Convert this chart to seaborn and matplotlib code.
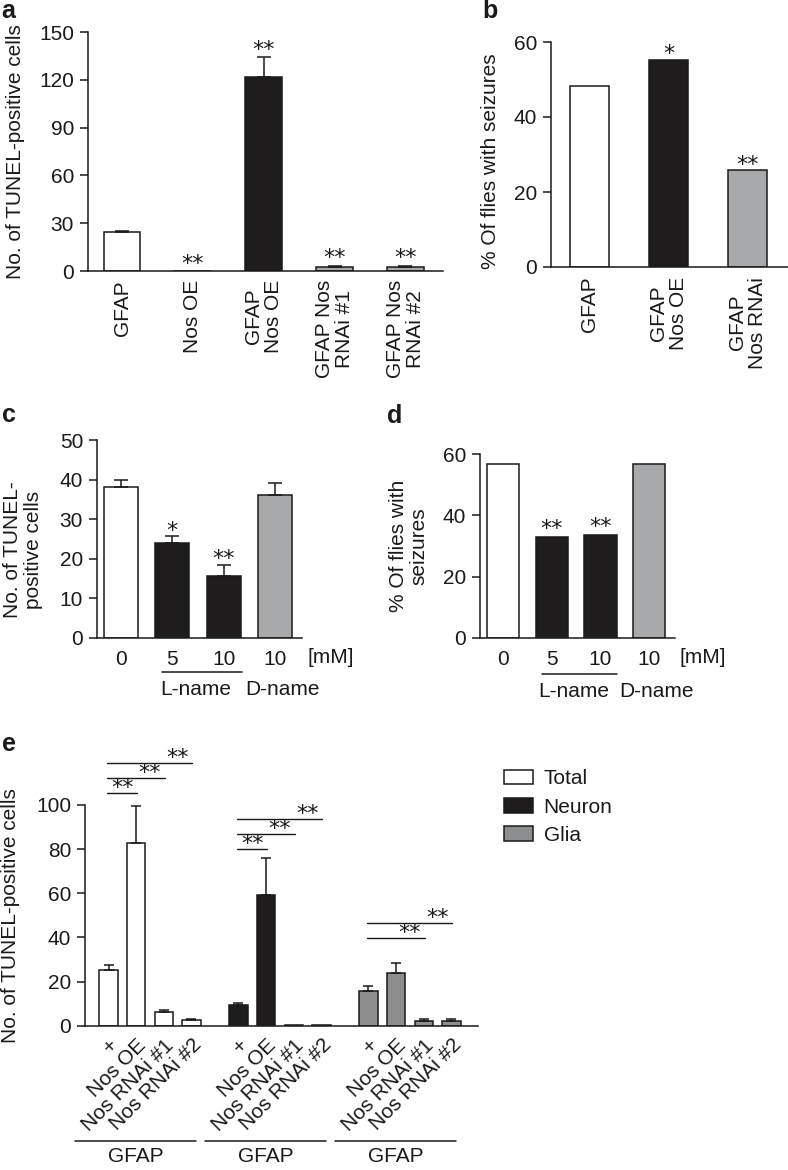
import numpy as np
import pandas as pd
import matplotlib.pyplot as plt
import matplotlib.transforms as mtransforms
import seaborn as sns

# panel a - TUNEL-positive cells
a_groups = ["GFAP", "Nos OE", "GFAP\nNos OE", "GFAP Nos\nRNAi #1", "GFAP Nos\nRNAi #2"]
a_mean = [24.2, 0.0, 121.5, 2.2, 2.2]
a_sem = [1.2, 0.0, 12.5, 1.2, 1.2]
a_sig = ["", "**", "**", "**", "**"]
a_fill = ["white", "dark", "dark", "grey", "grey"]

# panel b - % flies with seizures
b_groups = ["GFAP", "GFAP\nNos OE", "GFAP\nNos RNAi"]
b_pct = [48.2, 55.3, 25.9]
b_sig = ["", "*", "**"]
b_fill = ["white", "dark", "grey"]

# panels c, d - L-name / D-name feeding
doses = ["0", "5", "10", "10"]
drugs = ["", "L-name", "L-name", "D-name"]
c_mean = [38.1, 23.9, 15.5, 36.2]
c_sem = [1.9, 1.8, 3.0, 3.0]
c_sig = ["", "*", "**", ""]
d_pct = [56.9, 32.8, 33.6, 56.9]
d_sig = ["", "**", "**", ""]
cd_fill = ["white", "dark", "dark", "grey"]

# panel e - cell types
e_genotypes = ["+", "Nos OE", "Nos RNAi #1", "Nos RNAi #2"]
e_cells = ["Total", "Neuron", "Glia"]
e_total = [25.2, 82.8, 6.0, 2.5]
e_total_sem = [2.5, 16.9, 1.0, 0.6]
e_neuron = [9.5, 59.3, 0.3, 0.3]
e_neuron_sem = [0.9, 16.6, 0.0, 0.0]
e_glia = [15.8, 23.8, 2.3, 2.3]
e_glia_sem = [2.0, 4.4, 0.6, 0.6]
e_sig = [("Total", 0, 1), ("Total", 0, 2), ("Total", 0, 3),
         ("Neuron", 0, 1), ("Neuron", 0, 2), ("Neuron", 0, 3),
         ("Glia", 0, 2), ("Glia", 0, 3)]
e_sig_base = {"Total": 105.6, "Neuron": 80.1, "Glia": 39.6}
e_sig_step = 6.8

EDGE = "#1a1a1a"
LW = 1.1
COL = {"white": "white", "dark": "#1e1c1d", "grey": "#a8a9ab"}
E_COL = {"Total": "white", "Neuron": "#1e1c1d", "Glia": "#8d8e90"}
W, H, DPI = 788, 1170, 100
FS = 15
STAR_FS = 16

sns.set_style("ticks")
plt.rcParams['font.family'] = ['Liberation Sans', 'DejaVu Sans']
plt.rcParams.update({
    'font.size': FS, 'axes.linewidth': LW, 'axes.edgecolor': EDGE,
    'xtick.color': EDGE, 'ytick.color': EDGE, 'text.color': EDGE,
    'axes.labelcolor': EDGE, 'ytick.major.size': 5.5, 'ytick.major.width': LW,
    'ytick.major.pad': 4.5, 'xtick.labelsize': FS, 'ytick.labelsize': FS,
    'axes.labelsize': FS,
})

fig = plt.figure(figsize=(W / DPI, H / DPI), dpi=DPI)


def place(l, t, r, b):
    return fig.add_axes([l / W, 1 - b / H, (r - l) / W, (b - t) / H])


def star(ax, x, y, s, gap):
    em = STAR_FS * DPI / 72
    ax.annotate(s, (x, y), xytext=(0, (gap - 0.30 * em) * 72 / DPI),
                textcoords='offset points', ha='center', va='baseline',
                fontsize=STAR_FS, family=['DejaVu Sans'], annotation_clip=False)


def bars(ax, keys, vals, fills, width, sem=None, sig=None, gap=8):
    pal = [COL[f] for f in fills]
    sns.barplot(x=keys, y=vals, hue=keys, palette=pal, legend=False,
                width=width, saturation=1, edgecolor=EDGE, linewidth=LW, ax=ax)
    top = np.array(vals, float)
    if sem is not None:
        sem = np.array(sem, float)
        m = sem > 0
        x = np.arange(len(vals))
        ax.errorbar(x[m], top[m], yerr=[np.zeros(m.sum()), sem[m]], fmt='none',
                    ecolor=EDGE, elinewidth=LW, capsize=5, capthick=LW)
        top = top + sem
    for i, s in enumerate(sig):
        if s:
            star(ax, i, top[i], s, gap)


def style(ax, ymax, step, pad):
    sns.despine(ax=ax)
    ax.set_ylim(0, ymax)
    ax.set_yticks(np.arange(0, ymax + 1, step))
    ax.tick_params(axis='x', length=0, pad=pad)
    ax.set_xlabel("")


def ylab(ax, text, right_px, yfrac=0.5):
    ax.set_ylabel(text, fontsize=FS, linespacing=1.1)
    pos = ax.get_position()
    left = pos.x0 * W
    ax.yaxis.set_label_coords((right_px - left) / (pos.width * W), yfrac)


def below(ax, px):
    return mtransforms.offset_copy(ax.get_xaxis_transform(), fig=fig, y=-px, units='dots')


def drug_labels(ax, line_px, text_px):
    idx = [i for i, d in enumerate(drugs) if d == "L-name"]
    ax.plot([min(idx) - 0.2, max(idx) + 0.35], [0, 0], transform=below(ax, line_px),
            color=EDGE, lw=LW, clip_on=False)
    ax.text(np.mean(idx) - 0.05, 0, "L-name", transform=below(ax, text_px),
            ha='center', va='center', fontsize=FS)
    di = drugs.index("D-name")
    ax.text(di + 0.15, 0, "D-name", transform=below(ax, text_px),
            ha='center', va='center', fontsize=FS)
    ax.text(len(doses) + 0.1, 0, "[mM]", transform=below(ax, 20),
            ha='center', va='center', fontsize=FS)


# ---------- a ----------
ax = place(88, 32, 443, 271)
bars(ax, a_groups, a_mean, a_fill, 0.52, a_sem, a_sig, gap=8)
style(ax, 150, 30, 6.5)
ax.set_xlim(-0.48, 4.53)
ax.set_xticks(range(len(a_groups)))
ax.set_xticklabels(a_groups, rotation=90, ha='center', va='top', multialignment='center',
                   linespacing=1.1)
ylab(ax, "No. of TUNEL-positive cells", 25)

# ---------- b ----------
ax = place(551, 42, 788, 267)
bars(ax, b_groups, b_pct, b_fill, 0.5, None, b_sig, gap=6)
style(ax, 60, 20, 7)
ax.set_xlim(-0.49, 2.51)
ax.set_xticks(range(len(b_groups)))
ax.set_xticklabels(b_groups, rotation=90, ha='center', va='top', multialignment='center',
                   linespacing=1.1)
ylab(ax, "% Of flies with seizures", 500, 0.47)

# ---------- c ----------
cd_keys = [f"{d} {x}" for d, x in zip(drugs, doses)]
ax = place(97, 440, 302, 637.7)
bars(ax, cd_keys, c_mean, cd_fill, 0.66, c_sem, c_sig, gap=6)
style(ax, 50, 10, 9)
ax.set_xlim(-0.47, 3.53)
ax.set_xticks(range(len(doses)))
ax.set_xticklabels(doses)
drug_labels(ax, 34, 52)
ylab(ax, "No. of TUNEL-\npositive cells", 43, 0.446)

# ---------- d ----------
ax = place(480, 454.3, 675, 637.7)
bars(ax, cd_keys, d_pct, cd_fill, 0.66, None, d_sig, gap=9)
style(ax, 60, 20, 9)
ax.set_xlim(-0.47, 3.53)
ax.set_xticks(range(len(doses)))
ax.set_xticklabels(doses)
drug_labels(ax, 36, 54)
ylab(ax, "% Of flies with\nseizures", 428, 0.5)

# ---------- e ----------
GROUP_GAP = 4.7
e_vals = {"Total": e_total, "Neuron": e_neuron, "Glia": e_glia}
e_sems = {"Total": e_total_sem, "Neuron": e_neuron_sem, "Glia": e_glia_sem}
rows = []
for gi, cell in enumerate(e_cells):
    for j, g in enumerate(e_genotypes):
        rows.append({"pos": gi * GROUP_GAP + j, "count": e_vals[cell][j],
                     "sem": e_sems[cell][j], "cell": cell})
df = pd.DataFrame(rows)

ax = place(85, 805, 478, 1025.7)
sns.barplot(data=df, x="pos", y="count", hue="cell", hue_order=e_cells,
            palette=E_COL, native_scale=True, dodge=False, width=0.66,
            saturation=1, edgecolor=EDGE, linewidth=LW, ax=ax)
m = df["sem"] > 0
ax.errorbar(df.loc[m, "pos"], df.loc[m, "count"],
            yerr=[np.zeros(m.sum()), df.loc[m, "sem"]], fmt='none',
            ecolor=EDGE, elinewidth=LW, capsize=3.8, capthick=LW)
style(ax, 100, 20, 7)
ax.set_xlim(-0.85, 2 * GROUP_GAP + 3 + 0.96)
ax.set_xticks(df["pos"])
ax.set_xticklabels(e_genotypes * len(e_cells), rotation=45, ha='right', va='top',
                   rotation_mode='anchor')
ax.set_ylabel("")
ylab(ax, "No. of TUNEL-positive cells", 20)

level = {c: 0 for c in e_cells}
for cell, i0, i1 in e_sig:
    gi = e_cells.index(cell)
    y = e_sig_base[cell] + level[cell] * e_sig_step
    level[cell] += 1
    x0, x1 = gi * GROUP_GAP + i0, gi * GROUP_GAP + i1
    ax.plot([x0 - 0.05, x1 + 0.03], [y, y], color=EDGE, lw=1.0, clip_on=False)
    star(ax, x1 - 0.5, y, "**", 5.5)

for gi in range(len(e_cells)):
    x0, x1 = gi * GROUP_GAP - 1.2, gi * GROUP_GAP + 3.15
    ax.plot([x0, x1], [0, 0], transform=below(ax, 115), color=EDGE, lw=LW, clip_on=False)
    ax.text((x0 + x1) / 2, 0, "GFAP", transform=below(ax, 131), ha='center', va='center',
            fontsize=FS)

sns.move_legend(ax, "upper left", bbox_to_anchor=(1.066, 1.162), title=None,
                frameon=False, fontsize=FS, handlelength=1.4, handleheight=0.72,
                labelspacing=0.45, handletextpad=0.5, borderaxespad=0, borderpad=0)
for h in ax.get_legend().legend_handles:
    h.set_edgecolor(EDGE)
    h.set_linewidth(LW)

# panel letters
for letter, x, y in [("a", 1, 18), ("b", 482, 18), ("c", 2, 422), ("d", 387, 423), ("e", 2, 751)]:
    fig.text(x / W, 1 - y / H, letter, fontsize=18, fontweight='bold', va='baseline')

fig.savefig("out.png", dpi=DPI)
